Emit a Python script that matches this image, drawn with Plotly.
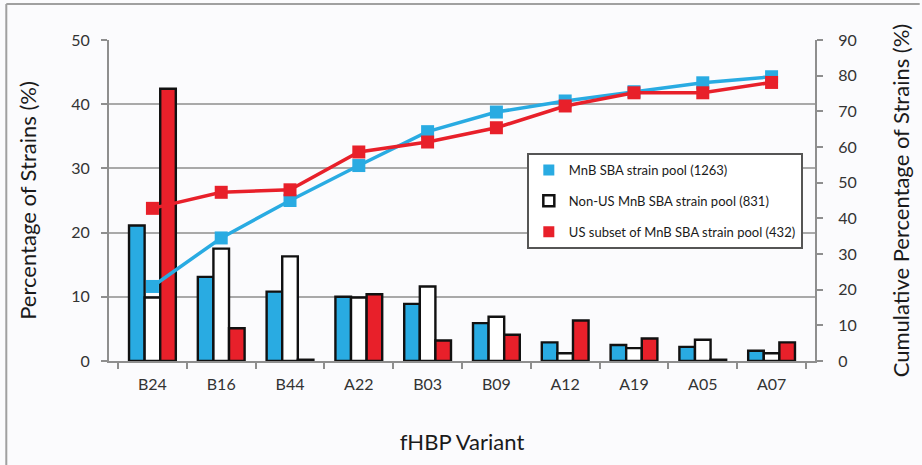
import plotly.graph_objects as go

# fHBP variants on the x axis
variants = ["B24", "B16", "B44", "A22", "B03", "B09", "A12", "A19", "A05", "A07"]

# Percentage of strains per variant (left axis)
pool_all = [21.1, 13.1, 10.8, 10.0, 8.9, 5.9, 2.9, 2.5, 2.2, 1.6]
pool_non_us = [9.9, 17.5, 16.3, 9.9, 11.6, 6.9, 1.2, 2.0, 3.3, 1.2]
pool_us = [42.4, 5.1, 0.2, 10.4, 3.2, 4.1, 6.3, 3.5, 0.2, 2.9]

# Cumulative percentage (right axis)
cum_all = [20.9, 34.5, 45.0, 54.8, 64.3, 69.8, 72.9, 75.5, 78.0, 79.7]
cum_us = [42.8, 47.3, 48.0, 58.6, 61.4, 65.4, 71.5, 75.2, 75.2, 78.1]

series_names = [
    "MnB SBA strain pool (1263)",
    "Non-US MnB SBA strain pool (831)",
    "US subset of MnB SBA strain pool (432)",
]

BLUE = "#29abe2"
RED = "#e8202a"
AXIS = "#8e8e8e"
GRID = "#a9a9a9"
BG = "#fbfbfd"
FONT = "Lato"

fig = go.Figure()

bar_line = dict(color="#111111", width=2.4)
for vals, col in [(pool_all, BLUE), (pool_non_us, "white"), (pool_us, RED)]:
    fig.add_trace(go.Bar(
        x=variants, y=vals, marker=dict(color=col, line=bar_line),
        showlegend=False, yaxis="y",
    ))

for vals, col in [(cum_all, BLUE), (cum_us, RED)]:
    fig.add_trace(go.Scatter(
        x=variants, y=vals, mode="lines+markers", yaxis="y2",
        line=dict(color=col, width=3.5),
        marker=dict(symbol="square", size=13, color=col),
        showlegend=False,
    ))

# Legend entries as plain square swatches
legend_styles = [
    dict(color=BLUE, line=dict(width=0)),
    dict(color="white", line=dict(color="#111111", width=2.5)),
    dict(color=RED, line=dict(width=0)),
]
for i, (name, mk) in enumerate(zip(series_names, legend_styles)):
    fig.add_trace(go.Scatter(
        x=[None], y=[None], mode="markers", name=name, legendgroup=f"g{i}",
        marker=dict(symbol="square", size=11, **mk), yaxis="y2",
    ))

ml, mr, mt, mb = 109, 105, 40, 104
W, H = 922, 465
pw, ph = W - ml - mr, H - mt - mb

tick_font = dict(size=16, color="#333333")
title_font = dict(size=22, color="#1a1a1a")

fig.update_layout(
    width=W, height=H,
    margin=dict(l=ml, r=mr, t=mt, b=mb),
    paper_bgcolor=BG, plot_bgcolor=BG,
    barmode="group", bargap=0.32, bargroupgap=0,
    font=dict(family=FONT, color="#333333", size=15),
    xaxis=dict(
        showline=True, linecolor=AXIS, linewidth=2,
        ticks="outside", ticklen=6, tickcolor=AXIS, tickwidth=2,
        tickson="boundaries", showgrid=False, ticklabelstandoff=8,
        tickfont=tick_font,
        title=dict(text="fHBP Variant", font=title_font, standoff=42),
    ),
    yaxis=dict(
        range=[0, 50], dtick=10, showline=True, linecolor=AXIS, linewidth=2,
        ticks="outside", ticklen=6, tickcolor=AXIS, tickwidth=2,
        showgrid=True, gridcolor=GRID, gridwidth=1.5, zeroline=False,
        ticklabelstandoff=8, tickfont=tick_font,
        title=dict(text="Percentage of Strains (%)", font=title_font, standoff=29),
    ),
    yaxis2=dict(
        range=[0, 90], dtick=10, overlaying="y", side="right",
        showline=True, linecolor=AXIS, linewidth=2,
        ticks="outside", ticklen=6, tickcolor=AXIS, tickwidth=2,
        showgrid=False, zeroline=False,
        ticklabelstandoff=12, tickfont=tick_font,
        title=dict(text="Cumulative Percentage of Strains (%)", font=title_font, standoff=38),
    ),
    legend=dict(
        x=(528 - ml) / pw, y=(H - mb - 153) / ph, xanchor="left", yanchor="top",
        bgcolor="white", bordercolor="#555555", borderwidth=2,
        font=dict(size=13, color="#1a1a1a"),
        traceorder="grouped", tracegroupgap=11,
    ),
    shapes=[
        dict(type="line", xref="paper", yref="paper",
             x0=(6 - ml) / pw, x1=(6 - ml) / pw, y0=(H - mb - 4) / ph, y1=(H - mb - H) / ph,
             line=dict(color="#a0a0a0", width=2)),
        dict(type="line", xref="paper", yref="paper",
             x0=(6 - ml) / pw, x1=(W - ml) / pw, y0=(H - mb - 4) / ph, y1=(H - mb - 4) / ph,
             line=dict(color="#a0a0a0", width=2)),
    ],
)

fig.write_html("out.html")
